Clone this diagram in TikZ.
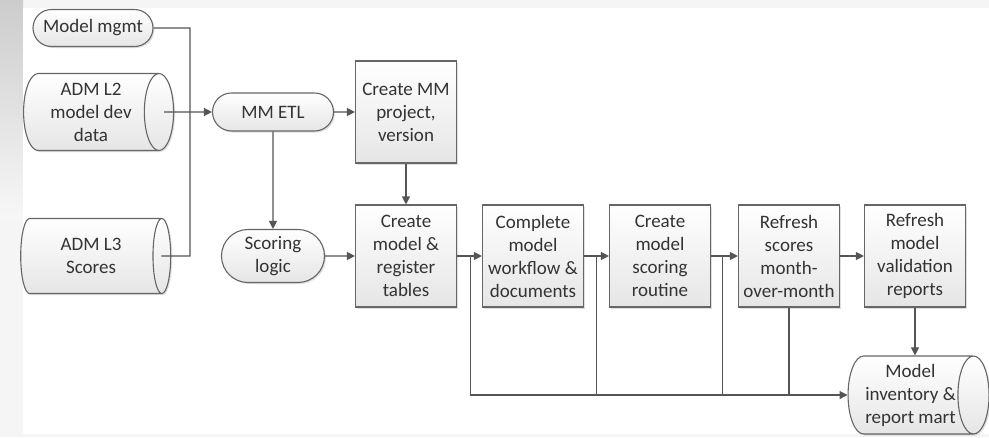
\documentclass[tikz,border=0pt]{standalone}
\usepackage{fontspec}
\setmainfont{Carlito}
\usetikzlibrary{shapes.geometric,shapes.misc,arrows.meta,shadows,calc}
\definecolor{linec}{HTML}{555555}
\definecolor{boxc}{HTML}{666666}
\begin{document}
\begin{tikzpicture}[x=1pt,y=-1pt,
  font=\fontsize{19}{23}\selectfont,
  textc/.style={text=black!80},
  line/.style={draw=linec, line width=1.1pt},
  arr/.style={line, -{Triangle[length=8pt,width=8pt]}},
  boxshade/.style={top color=white, bottom color=gray!20, draw=boxc, line width=1.1pt, textc,
    drop shadow={shadow xshift=1.5pt,shadow yshift=-1.5pt,opacity=0.25}},
  procbox/.style={boxshade, rectangle, minimum width=101pt, minimum height=102pt, inner sep=0pt, align=center},
  term/.style={boxshade, rounded rectangle, inner sep=0pt, align=center},
  dbase/.style={boxshade, cylinder, shape aspect=0.5, inner sep=0pt, align=center}
]
% background / page edges
\useasboundingbox (0,0) rectangle (989,437);
\fill[gray!8] (0,0) rectangle (989,437);
\shade[top color=gray!40, bottom color=gray!6] (0,0) rectangle (23,220);
\fill[white] (23,8) rectangle (989,434);

% nodes
\node[term, minimum width=120pt, minimum height=37pt] (mgmt) at (93,28) {Model mgmt};
\node[dbase, minimum height=150pt, minimum width=77pt] (adm2) at (91,112) {ADM L2\\model dev\\data};
\node[dbase, minimum height=150pt, minimum width=75pt] (adm3) at (91,256) {ADM L3\\Scores};
\node[term, minimum width=121pt, minimum height=38pt] (etl) at (273,112) {MM ETL};
\node[term, minimum width=103pt, minimum height=53pt] (score) at (273,256) {Scoring\\logic};
\node[procbox] (mmproj) at (406,112) {Create MM\\project,\\version};
\node[procbox] (regtab) at (406,256) {Create\\model \&\\register\\tables};
\node[procbox] (wf) at (533,256) {Complete\\model\\workflow \&\\documents};
\node[procbox] (routine) at (660,256) {Create\\model\\scoring\\routine};
\node[procbox] (refresh) at (789,256) {Refresh\\scores\\month-\\over-month};
\node[procbox] (valid) at (915,256) {Refresh\\model\\validation\\reports};
\node[dbase, minimum height=141pt, minimum width=78pt] (inv) at (910.5,395) {Model\\inventory \&\\report mart};

% left inputs
\coordinate (bus) at (190,0);
\draw[line] (mgmt.east) -| (bus |- adm3.center) -- ([xshift=-10pt]adm3.east);
\draw[arr] ([xshift=-10pt]adm2.east) -- (etl.west);

% main flow
\draw[arr] (etl) -- (mmproj);
\draw[arr] (etl) -- (score);
\draw[arr] (mmproj) -- (regtab);
\draw[arr] (score) -- (regtab);
\draw[arr] (regtab) -- (wf);
\draw[arr] (wf) -- (routine);
\draw[arr] (routine) -- (refresh);
\draw[arr] (refresh) -- (valid);
\draw[arr] (valid.south) -- (valid.south |- inv.north);

% bottom bus to report mart
\coordinate (j1) at ($(regtab.east)+(13,0)$);
\coordinate (j2) at ($(wf.east)+(12,0)$);
\coordinate (j3) at ($(routine.east)+(11,0)$);
\draw[arr] (j1) |- (inv.west);
\draw[line] (j2) -- (j2 |- inv.west);
\draw[line] (j3) -- (j3 |- inv.west);
\draw[line] (refresh.south) -- (refresh.south |- inv.west);
\end{tikzpicture}
\end{document}
